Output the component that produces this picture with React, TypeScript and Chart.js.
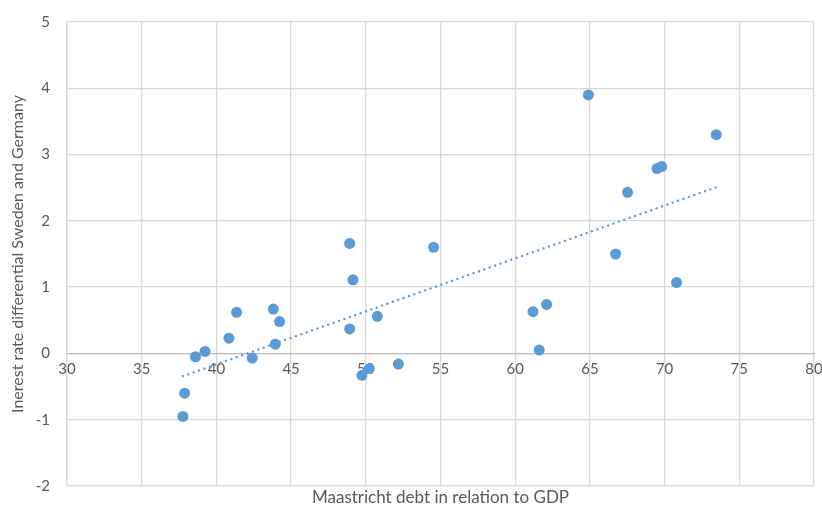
import React, { useEffect, useRef } from "react";
import { Chart, registerables } from "chart.js";

Chart.register(...registerables);

const debtToGdp: number[] = [
  37.76, 37.87, 38.6, 39.24, 40.84, 41.35, 42.4, 43.81, 44.23, 43.94,
  48.92, 49.14, 50.77, 50.23, 49.74, 52.18, 48.92, 64.9, 73.46, 69.49,
  69.8, 67.52, 54.54, 66.72, 70.8, 61.19, 62.1, 61.61,
];
const rateDiff: number[] = [
  -0.95, -0.6, -0.05, 0.03, 0.23, 0.62, -0.07, 0.67, 0.48, 0.14,
  0.37, 1.11, 0.56, -0.23, -0.33, -0.16, 1.66, 3.9, 3.3, 2.79,
  2.82, 2.43, 1.6, 1.5, 1.07, 0.63, 0.74, 0.05,
];

const xTitle = "Maastricht debt in relation to GDP";
const yTitle = "Inerest rate differential Sweden and Germany";

const BLUE = "#5B9BD5";
const GRID = "#d9d9d9";
const TEXT = "#595959";
const FONT = "Lato";

function linearFit(xs: number[], ys: number[]) {
  const n = xs.length;
  const mx = xs.reduce((a, b) => a + b, 0) / n;
  const my = ys.reduce((a, b) => a + b, 0) / n;
  let sxy = 0;
  let sxx = 0;
  for (let i = 0; i < n; i++) {
    sxy += (xs[i] - mx) * (ys[i] - my);
    sxx += (xs[i] - mx) * (xs[i] - mx);
  }
  const slope = sxy / sxx;
  return { slope, intercept: my - slope * mx };
}

const noPad = (scale: any) => {
  scale.paddingLeft = 0;
  scale.paddingRight = 0;
  scale.paddingTop = 0;
  scale.paddingBottom = 0;
};

export default function App() {
  const ref = useRef<HTMLCanvasElement>(null);

  useEffect(() => {
    document.body.style.margin = "0";
    if (!ref.current) return;
    const points = debtToGdp.map((x, i) => ({ x, y: rateDiff[i] }));
    const { slope, intercept } = linearFit(debtToGdp, rateDiff);
    const xMin = Math.min(...debtToGdp);
    const xMax = Math.max(...debtToGdp);
    const trend = [
      { x: xMin, y: intercept + slope * xMin },
      { x: xMax, y: intercept + slope * xMax },
    ];

    const chart = new Chart(ref.current, {
      type: "scatter",
      data: {
        datasets: [
          {
            label: "Trend",
            data: trend,
            showLine: true,
            borderColor: BLUE,
            borderWidth: 2.4,
            borderDash: [0.01, 5.7],
            borderCapStyle: "round",
            pointRadius: 0,
            order: 0,
          },
          {
            label: "Data",
            data: points,
            backgroundColor: BLUE,
            borderColor: BLUE,
            pointRadius: 5.5,
            pointBorderWidth: 0,
            order: 1,
          },
        ],
      },
      options: {
        animation: false,
        responsive: false,
        layout: { padding: { left: 0, right: 8, top: 22, bottom: 0 } },
        plugins: { legend: { display: false }, tooltip: { enabled: false } },
        scales: {
          x: {
            type: "linear",
            position: "bottom",
            min: 30,
            max: 80,
            ticks: { display: false, stepSize: 5 },
            grid: { color: GRID, lineWidth: 1.3, drawTicks: false },
            border: { color: GRID, width: 1.3 },
            title: {
              display: true,
              text: xTitle,
              color: TEXT,
              font: { family: FONT, size: 17 },
              padding: { top: 0, bottom: 1 },
            },
            afterFit: (scale: any) => {
              scale.height = 23;
              noPad(scale);
            },
          },
          x2: {
            type: "linear",
            axis: "x",
            position: { y: 0 } as any,
            min: 30,
            max: 80,
            z: 1,
            ticks: {
              stepSize: 5,
              color: TEXT,
              font: { family: FONT, size: 15 },
              padding: 7,
              maxRotation: 0,
            },
            grid: { display: false, drawTicks: false },
            border: { display: true, color: "#bfbfbf", width: 1.3 },
            afterFit: noPad,
          },
          y: {
            type: "linear",
            min: -2,
            max: 5,
            ticks: {
              stepSize: 1,
              color: TEXT,
              font: { family: FONT, size: 15 },
              padding: 17,
            },
            grid: { color: GRID, lineWidth: 1.3, drawTicks: false },
            border: { color: GRID, width: 1.3 },
            title: {
              display: true,
              text: yTitle,
              color: TEXT,
              font: { family: FONT, size: 16 },
              padding: { top: 8, bottom: 0 },
            },
            afterFit: (scale: any) => {
              scale.width = 67;
              noPad(scale);
            },
          },
        },
      },
    });
    return () => chart.destroy();
  }, []);

  return (
    <div style={{ width: 822, height: 509, background: "#fff" }}>
      <canvas ref={ref} width={822} height={509} />
    </div>
  );
}
